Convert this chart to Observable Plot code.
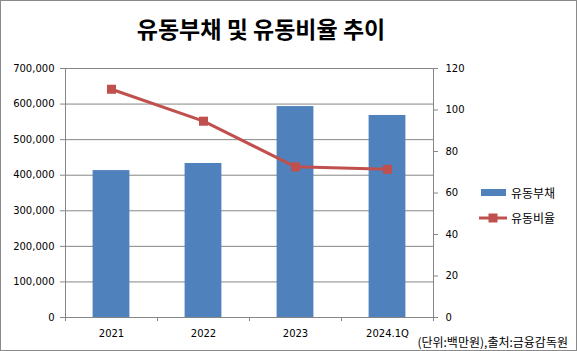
<!DOCTYPE html>
<html><head><meta charset="utf-8">
<script src="https://cdn.jsdelivr.net/npm/d3@7"></script>
<script src="https://cdn.jsdelivr.net/npm/@observablehq/plot@0.6"></script>
<style>
body{margin:0;background:#fff;}
#wrap{position:relative;width:577px;height:351px;overflow:hidden;font-family:"DejaVu Sans","Noto Sans CJK KR",sans-serif;background:#fff;}
#chart{position:absolute;left:0;top:0;}
#border{position:absolute;left:0;top:0;width:577px;height:351px;box-sizing:border-box;border:1px solid #8a8a8a;pointer-events:none;}
#title{position:absolute;left:0;top:13px;width:522px;text-align:center;font-family:"Noto Sans CJK KR",sans-serif;font-weight:bold;font-size:23px;line-height:30px;color:#000;}
#legend{position:absolute;left:479px;top:180px;font-family:"Noto Sans CJK KR",sans-serif;font-size:12px;color:#000;}
#legend .row{display:flex;align-items:center;height:25px;}
#legend svg{margin-right:4px;}
#note{position:absolute;right:9px;top:335px;font-family:"Noto Sans CJK KR",sans-serif;font-size:12px;line-height:14px;color:#000;}
</style>
</head><body>
<div id="wrap">
  <div id="chart"></div>
  <div id="title">유동부채 및 유동비율 추이</div>
  <div id="legend">
    <div class="row"><svg width="28" height="10"><rect x="2" y="1" width="25" height="7" fill="#4F81BD"/></svg><span>유동부채</span></div>
    <div class="row"><svg width="28" height="10"><line x1="0" y1="5" x2="28" y2="5" stroke="#C0504D" stroke-width="3"/><rect x="9.5" y="0.5" width="9" height="9" fill="#C0504D"/></svg><span>유동비율</span></div>
  </div>
  <div id="note">(단위:백만원),출처:금융감독원</div>
  <div id="border"></div>
</div>
<script>
const years = ["2021", "2022", "2023", "2024.1Q"];
const debt = [413000, 433000, 593000, 568000];
const ratio = [110.0, 94.6, 72.6, 71.4];
const leftTicks = [0, 100000, 200000, 300000, 400000, 500000, 600000, 700000];
const rightTicks = [0, 20, 40, 60, 80, 100, 120];
const Y_MAX = 700000, R_MAX = 120;
const k = Y_MAX / R_MAX;

const data = years.map((c, i) => ({c, i, debt: debt[i], ratio: ratio[i]}));
const grid = "#868686";

const chart = Plot.plot({
  width: 577, height: 351,
  marginTop: 68, marginBottom: 34, marginLeft: 65, marginRight: 144,
  style: {fontFamily: '"DejaVu Sans","Noto Sans CJK KR",sans-serif', fontSize: "10px", color: "#000", background: "transparent"},
  x: {domain: [0, 4], axis: null},
  y: {domain: [0, Y_MAX], axis: null},
  marks: [
    Plot.gridY(leftTicks, {stroke: grid, strokeOpacity: 1}),
    Plot.rectY(data, {x1: d => d.i + 0.3, x2: d => d.i + 0.7, y: "debt", fill: "#4F81BD"}),
    Plot.ruleX([0], {stroke: grid}),
    Plot.ruleX([4], {stroke: grid}),
    Plot.ruleY([0], {stroke: grid}),
    Plot.axisY(leftTicks, {anchor: "left", label: null, tickSize: 5, tickPadding: 6, tickFormat: d3.format(","), stroke: grid, fill: "#000"}),
    Plot.axisY(rightTicks.map(t => t * k), {anchor: "right", label: null, tickSize: 4, tickPadding: 8, tickFormat: d => String(Math.round(d / k)), stroke: grid, fill: "#000"}),
    Plot.axisX([0, 1, 2, 3, 4], {anchor: "bottom", label: null, tickSize: 4, tickFormat: () => "", stroke: grid}),
    Plot.axisX(data.map(d => d.i + 0.5), {anchor: "bottom", label: null, tickSize: 0, tickPadding: 12, tickFormat: d => years[Math.floor(d)], fill: "#000"}),
    Plot.line(data, {x: d => d.i + 0.5, y: d => d.ratio * k, stroke: "#C0504D", strokeWidth: 3}),
    Plot.dot(data, {x: d => d.i + 0.5, y: d => d.ratio * k, symbol: "square", r: 5.1, fill: "#C0504D", stroke: "none"})
  ]
});
document.getElementById("chart").appendChild(chart);
</script>
</body></html>
